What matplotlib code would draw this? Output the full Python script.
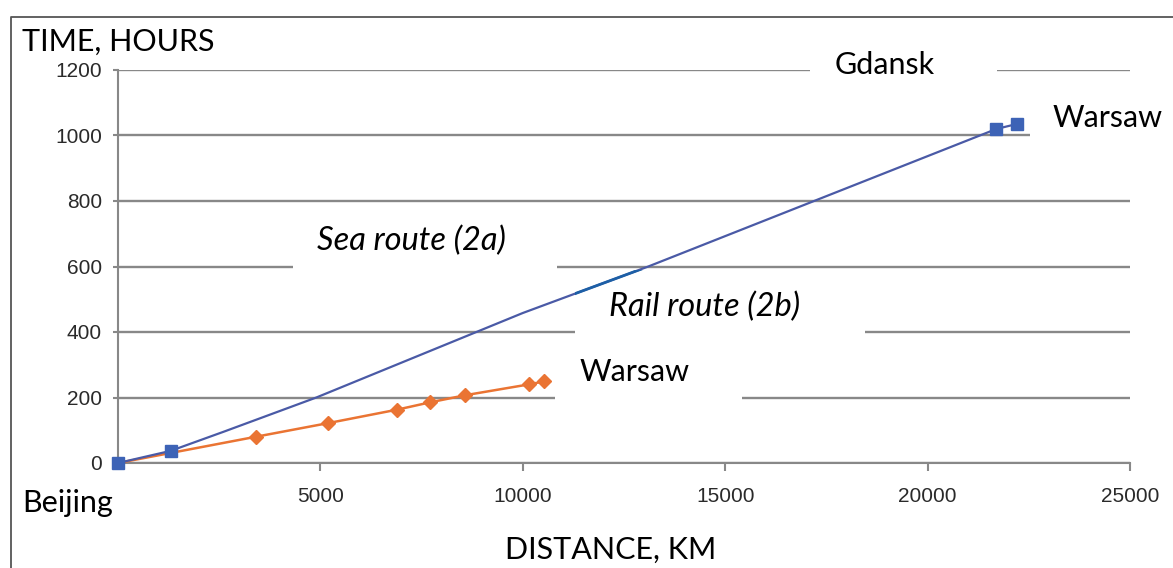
import matplotlib
matplotlib.use("Agg")
import matplotlib.pyplot as plt
from matplotlib.patches import Rectangle

# ---- data ----
sea_km = [0, 1300, 2600, 4900, 10000, 13100, 21700, 22200]
sea_h = [0, 37, 95, 200, 458, 600, 1020, 1035]
sea_marked = [0, 1, 6, 7]

rail_km = [0, 3400, 5200, 6900, 7700, 8580, 10150, 10520]
rail_h = [0, 80, 122, 163, 185, 207, 240, 249]

x_ticks = [5000, 10000, 15000, 20000, 25000]
y_ticks = [0, 200, 400, 600, 800, 1000, 1200]

W, H = 1173, 568
fig = plt.figure(figsize=(W / 100, H / 100), dpi=100)
fig.patch.set_facecolor("white")

def fx(px):
    return px / W

def fy(py):
    return 1 - py / H

ax = fig.add_axes([fx(118), fy(463), fx(1130) - fx(118), fy(70) - fy(463)])
ax.set_xlim(0, 25000)
ax.set_ylim(0, 1200)
ax.set_facecolor("none")

grid_c = "#888888"
for s in ["top", "right"]:
    ax.spines[s].set_visible(False)
for s in ["left", "bottom"]:
    ax.spines[s].set_color(grid_c)
    ax.spines[s].set_linewidth(1.5)

ax.set_xticks(x_ticks, [str(v) for v in x_ticks])
ax.set_yticks(y_ticks, [str(v) for v in y_ticks])
ax.tick_params(axis="both", labelsize=15, labelcolor="#2a2a2a",
               labelfontfamily="Liberation Sans")
ax.tick_params(axis="x", direction="out", length=6, width=1.5, color=grid_c, pad=11)
ax.tick_params(axis="y", direction="out", length=3.6, width=1.5, color=grid_c, pad=8)
ax.yaxis.grid(True, color=grid_c, linewidth=1.7, zorder=0)
ax.set_axisbelow(True)

blue = "#4a5aa6"
orange = "#ea7433"
ax.plot(rail_km, rail_h, color=orange, lw=1.8, marker="D", markersize=7.5,
        markevery=list(range(1, len(rail_km))), markerfacecolor=orange,
        markeredgecolor=orange, zorder=4, clip_on=False)
ax.plot(sea_km, sea_h, color=blue, lw=1.6, zorder=5, clip_on=False)
ax.plot([sea_km[i] for i in sea_marked], [sea_h[i] for i in sea_marked],
        ls="none", marker="s", markersize=8.5, color="#3d63b6", zorder=6, clip_on=False)

# white label boxes (figure pixel coordinates)
boxes = {
    "gdansk": (810, 45, 997, 92),
    "warsaw_top": (1030, 92, 1173, 160),
    "sea": (293, 205, 557, 269),
    "rail": (575, 270, 865, 336),
    "warsaw_low": (555, 350, 742, 402),
}
rects = {}
for k, (x0, y0, x1, y1) in boxes.items():
    r = Rectangle((fx(x0), fy(y1)), fx(x1) - fx(x0), fy(y0) - fy(y1),
                  transform=fig.transFigure, facecolor="white", edgecolor="none",
                  zorder=3)
    ax.add_patch(r)
    r.set_clip_on(False)
    rects[k] = r

# darker segment of blue line inside rail box
dark, = ax.plot(sea_km, sea_h, color="#1d5fa6", lw=2.0, zorder=5.5)
dark.set_clip_path(rects["rail"])

txt = ["Lato", "DejaVu Sans"]
fs = 22
fsi = 23.5
fig.text(fx(22), fy(42), "TIME, HOURS", family=txt, fontsize=fs, va="center", ha="left")
fig.text(fx(885), fy(65), "Gdansk", family=txt, fontsize=fs, va="center", ha="center", zorder=10)
fig.text(fx(1053), fy(118), "Warsaw", family=txt, fontsize=fs, va="center", ha="left", zorder=10)
fig.text(fx(411), fy(241), "Sea route (2a)", family=txt, fontsize=fsi, va="center", ha="center", style="italic", zorder=10)
fig.text(fx(705), fy(307), "Rail route (2b)", family=txt, fontsize=fsi, va="center", ha="center", style="italic", zorder=10)
fig.text(fx(580), fy(372), "Warsaw", family=txt, fontsize=fs, va="center", ha="left", zorder=10)
fig.text(fx(22), fy(503), "Beijing", family=txt, fontsize=fs, va="center", ha="left")
fig.text(fx(611), fy(550), "DISTANCE, KM", family=txt, fontsize=fs, va="center", ha="center")

# outer frame
fig.add_artist(plt.Line2D([fx(11), fx(11), 1.0], [0.0, fy(17), fy(17)],
                          transform=fig.transFigure, color="#555555", lw=1.3))

fig.savefig("out.png", dpi=100)
